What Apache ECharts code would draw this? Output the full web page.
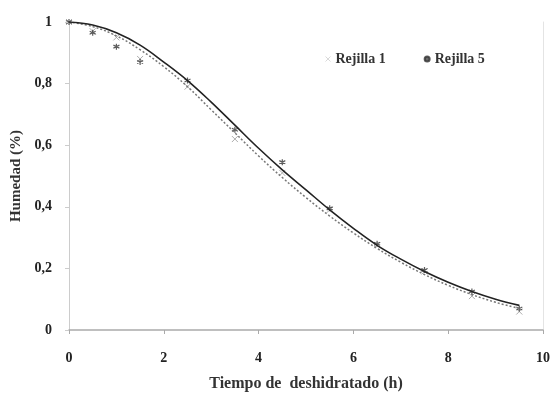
<!DOCTYPE html>
<html>
<head>
<meta charset="utf-8">
<script src="https://cdn.jsdelivr.net/npm/echarts@6/dist/echarts.min.js"></script>
<style>
  html, body { margin: 0; padding: 0; background: #fff; }
  #chart { width: 554px; height: 394px; }
</style>
</head>
<body>
<div id="chart"></div>
<script>
// tiempo de medición (h)
const horas = [0, 0.5, 1, 1.5, 2.5, 3.5, 4.5, 5.5, 6.5, 7.5, 8.5, 9.5]
// humedad medida
const rejilla1 = [1, 0.97, 0.95, 0.88, 0.79, 0.62, 0.51, 0.39, 0.275, 0.19, 0.11, 0.06]
const rejilla5 = [1, 0.965, 0.92, 0.87, 0.81, 0.65, 0.545, 0.395, 0.28, 0.195, 0.125, 0.07]

// curvas ajustadas
const horasAjuste = [0, 0.5, 1, 1.5, 2, 2.5, 3, 3.5, 4, 4.5, 5, 5.5, 6, 6.5, 7, 7.5, 8, 8.5, 9, 9.5]
const ajuste1 = [1, 0.985, 0.955, 0.91, 0.855, 0.79, 0.715, 0.64, 0.565, 0.495, 0.43, 0.37, 0.315, 0.265, 0.22, 0.18, 0.145, 0.115, 0.09, 0.07]
const ajuste5 = [1, 0.99, 0.965, 0.925, 0.87, 0.81, 0.74, 0.665, 0.59, 0.52, 0.455, 0.39, 0.33, 0.275, 0.23, 0.19, 0.155, 0.125, 0.1, 0.08]

const ticksX = ['0', '2', '4', '6', '8', '10']

const pair = (xs, ys) => xs.map((x, i) => [x, ys[i]])

const crossPath = 'path://M0,0L10,10M10,0L0,10'
const starPath = 'path://M5,0L5,10M0,2.5L10,7.5M0,7.5L10,2.5'
const font = 'Liberation Serif'

const chart = echarts.init(document.getElementById('chart'))

chart.setOption({
  animation: false,
  backgroundColor: '#fff',
  textStyle: { fontFamily: font },
  grid: { left: 69, right: 11, top: 22, bottom: 64, containLabel: false, outerBoundsMode: 'none' },
  legend: {
    data: [
      { name: 'Rejilla 1', icon: crossPath, itemStyle: { color: 'none', borderColor: '#d0d0d0', borderWidth: 1 } },
      { name: 'Rejilla 5', icon: 'circle', itemStyle: { color: '#444' } }
    ],
    left: 318, top: 47,
    itemWidth: 5, itemHeight: 5, itemGap: 38,
    textStyle: { fontFamily: font, fontWeight: 'bold', fontSize: 14, color: '#333' }
  },
  xAxis: {
    type: 'value', min: 0, max: 10, interval: 2,
    name: 'Tiempo de  deshidratado (h)', nameLocation: 'middle', nameGap: 46,
    nameTextStyle: { fontFamily: font, fontWeight: 'bold', fontSize: 16, color: '#333' },
    axisLine: { lineStyle: { color: '#aaa', width: 1.5 } },
    axisTick: { show: true, length: 4, lineStyle: { color: '#aaa' } },
    axisLabel: { margin: 21, fontFamily: font, fontWeight: 'bold', fontSize: 14, color: '#222',
      formatter: (v) => ticksX[Math.round(v / 2)] },
    splitLine: { show: false }
  },
  yAxis: [{
    type: 'value', min: 0, max: 1, interval: 0.2,
    name: 'Humedad (%)', nameLocation: 'middle', nameGap: 44,
    nameTextStyle: { fontFamily: font, fontWeight: 'bold', fontSize: 15, color: '#333' },
    axisLine: { show: true, lineStyle: { color: '#ccc' } },
    axisTick: { show: true, length: 4, lineStyle: { color: '#ccc' } },
    axisLabel: { margin: 17, fontFamily: font, fontWeight: 'bold', fontSize: 14, color: '#222',
      formatter: (v) => String(Math.round(v * 10) / 10).replace('.', ',') },
    splitLine: { show: false }
  }, {
    type: 'value', min: 0, max: 1, position: 'right',
    axisLine: { show: true, lineStyle: { color: '#e4e4e4' } },
    axisTick: { show: false }, axisLabel: { show: false }, splitLine: { show: false }
  }],
  series: [
    {
      name: 'Ajuste 1', type: 'line', data: pair(horasAjuste, ajuste1),
      smooth: 0.4, showSymbol: false, silent: true,
      lineStyle: { color: '#777', width: 1.5, type: [2, 2] }
    },
    {
      name: 'Ajuste 5', type: 'line', data: pair(horasAjuste, ajuste5),
      smooth: 0.4, showSymbol: false, silent: true,
      lineStyle: { color: '#222', width: 1.6 }
    },
    {
      name: 'Rejilla 1', type: 'scatter', data: pair(horas, rejilla1),
      symbol: crossPath, symbolSize: 6,
      itemStyle: { color: 'none', borderColor: '#999', borderWidth: 1 }
    },
    {
      name: 'Rejilla 5', type: 'scatter', data: pair(horas, rejilla5),
      symbol: starPath, symbolSize: 6,
      itemStyle: { color: 'none', borderColor: '#333', borderWidth: 1.2 }
    }
  ]
})
</script>
</body>
</html>
